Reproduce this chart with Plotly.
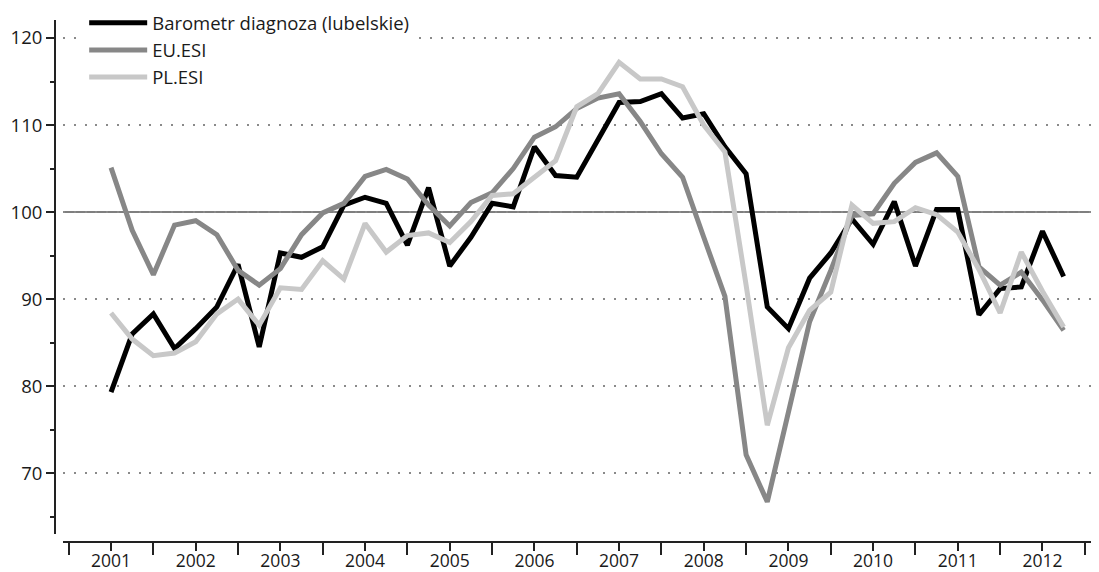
import pandas as pd
import plotly.graph_objects as go

# Quarterly periods 2001Q1 .. 2012Q2
periods = pd.period_range("2001Q1", "2012Q2", freq="Q")
x_vals = [p.year + (p.quarter - 1) / 4 for p in periods]

barometr = [79.3, 86.0, 88.3, 84.3, 86.6, 89.1, 94.0, 84.5, 95.3, 94.8,
            96.0, 100.8, 101.7, 101.0, 96.2, 102.8, 93.8, 97.1, 101.0, 100.6,
            107.5, 104.2, 104.0, 108.2, 112.6, 112.7, 113.6, 110.8, 111.3, 107.5,
            104.4, 89.1, 86.6, 92.4, 95.3, 99.2, 96.3, 101.2, 93.8, 100.3,
            100.3, 88.2, 91.2, 91.4, 97.8, 92.6]
eu_esi = [105.1, 97.9, 92.8, 98.5, 99.0, 97.4, 93.3, 91.6, 93.5, 97.4,
          99.9, 101.0, 104.1, 104.9, 103.8, 100.8, 98.4, 101.1, 102.2, 105.0,
          108.6, 109.8, 111.9, 113.1, 113.6, 110.4, 106.7, 104.0, 97.1, 90.3,
          72.1, 66.7, 77.0, 87.4, 93.3, 99.6, 99.8, 103.3, 105.7, 106.8,
          104.1, 93.7, 91.6, 93.1, 89.9, 86.4]
pl_esi = [88.4, 85.4, 83.5, 83.8, 85.1, 88.3, 90.0, 87.0, 91.3, 91.1,
          94.4, 92.3, 98.7, 95.4, 97.3, 97.6, 96.5, 98.9, 101.9, 102.1,
          104.0, 105.9, 112.1, 113.6, 117.2, 115.3, 115.3, 114.4, 110.0, 106.9,
          91.6, 75.5, 84.4, 88.7, 90.8, 100.8, 98.7, 98.9, 100.5, 99.7,
          97.7, 93.4, 88.4, 95.4, 90.9, 86.8]

series_names = ["Barometr diagnoza (lubelskie)", "EU.ESI", "PL.ESI"]
series_colors = ["#000000", "#878787", "#c8c8c8"]

year_ticks = list(range(2001, 2013))
year_labels = [str(y) for y in year_ticks]
year_bounds = [y - 0.5 for y in range(2001, 2014)]
y_major = [70, 80, 90, 100, 110, 120]
y_minor = [65, 75, 85, 95, 105, 115]
ref_level = 100

FONT = "Open Sans"
AX = "#222222"

fig = go.Figure()
for name, vals, col in zip(series_names, [barometr, eu_esi, pl_esi], series_colors):
    fig.add_trace(go.Scatter(x=x_vals, y=vals, mode="lines", name=name,
                             line=dict(color=col, width=5)))

fig.add_shape(type="line", xref="x domain", x0=0, x1=1, yref="y",
              y0=ref_level, y1=ref_level, line=dict(color="#555555", width=1.5),
              layer="below")

# page body has an 8px margin, so the figure is sized/positioned to compensate
fig.update_layout(
    width=1091, height=564,
    margin=dict(l=47, r=2, t=12, b=30, autoexpand=False),
    plot_bgcolor="white", paper_bgcolor="white",
    font=dict(family=FONT, size=18.5, color="#1a1a1a"),
    showlegend=True,
    legend=dict(x=0.028, y=1.03, xanchor="left", yanchor="top",
                bgcolor="white", borderwidth=0, itemwidth=58,
                font=dict(family=FONT, size=18.5, color="#1a1a1a"),
                tracegroupgap=0),
    xaxis=dict(domain=[0.0077, 1], anchor="free", position=0,
               range=[2000.433, 2012.644], automargin=False,
               tickmode="array", tickvals=year_ticks, ticktext=year_labels,
               tickfont=dict(size=17.5), ticklabelstandoff=-5,
               ticks="outside", ticklen=8, tickwidth=2, tickcolor=AX,
               showline=True, linewidth=2, linecolor=AX,
               showgrid=False, zeroline=False,
               minor=dict(tickmode="array", tickvals=year_bounds, ticks="outside",
                          ticklen=12, tickwidth=2, tickcolor=AX, showgrid=False)),
    yaxis=dict(domain=[0.0153, 1], anchor="free", position=0,
               range=[63, 122.07], automargin=False,
               tickmode="array", tickvals=y_major,
               ticks="outside", ticklen=8, tickwidth=2, tickcolor=AX,
               showline=True, linewidth=2, linecolor=AX,
               showgrid=True, gridcolor="#8a8a8a", gridwidth=2,
               griddash="2px,8.8px", zeroline=False,
               minor=dict(tickmode="array", tickvals=y_minor, ticks="outside",
                          ticklen=4, tickwidth=2, tickcolor=AX, showgrid=False)),
)

fig.write_html("out.html")
